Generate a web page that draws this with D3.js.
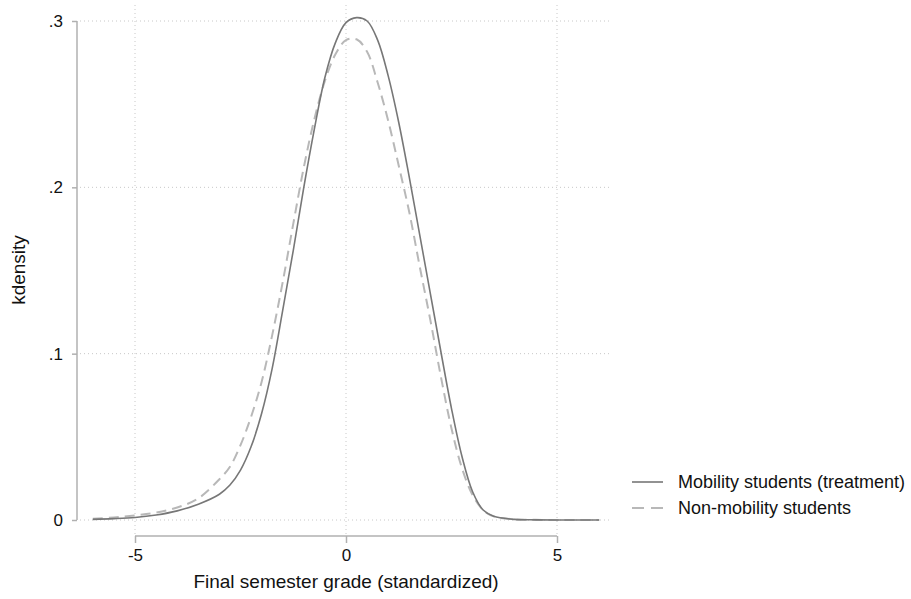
<!doctype html>
<html lang="en">
<head>
<meta charset="utf-8">
<title>kdensity</title>
<script src="https://cdn.jsdelivr.net/npm/d3@7"></script>
<style>
  body { margin: 0; background: #fff; }
  svg text { font-family: "Liberation Sans", Arial, sans-serif; fill: #111; }
</style>
</head>
<body>
<script>
var gridX = [-6, -5.5, -5, -4.5, -4, -3.5, -3, -2.75, -2.5, -2.25, -2, -1.75, -1.5, -1.25, -1, -0.75, -0.5, -0.25,
             0, 0.25, 0.5, 0.75, 1, 1.25, 1.5, 1.75, 2, 2.25, 2.5, 2.75, 3, 3.25, 3.5, 4, 4.5, 5, 5.5, 6];
var mobility = [0.0004, 0.0008, 0.0015, 0.003, 0.0055, 0.0095, 0.0155, 0.021, 0.030, 0.044, 0.064, 0.091, 0.126, 0.162, 0.200, 0.235, 0.266, 0.287,
                0.299, 0.302, 0.300, 0.2885, 0.267, 0.239, 0.206, 0.171, 0.136, 0.101, 0.067, 0.038, 0.017, 0.006, 0.0022, 0.0004, 0.0001, 0, 0, 0];
var nonMobility = [0.0008, 0.0015, 0.0028, 0.0045, 0.0075, 0.013, 0.0245, 0.032, 0.045, 0.062, 0.083, 0.111, 0.143, 0.178, 0.212, 0.241, 0.264, 0.280,
                   0.2885, 0.289, 0.2815, 0.263, 0.240, 0.213, 0.185, 0.152, 0.120, 0.086, 0.055, 0.031, 0.015, 0.006, 0.0022, 0.0004, 0.0001, 0, 0, 0];
var xTicks = [-5, 0, 5];
var yTicks = [0, 0.1, 0.2, 0.3];
var yTickLabels = ["0", ".1", ".2", ".3"];
var seriesNames = ["Mobility students (treatment)", "Non-mobility students"];

var W = 911, H = 599;
var x = d3.scaleLinear().domain([-5, 5]).range([135, 557]);
var y = d3.scaleLinear().domain([0, 0.3]).range([520, 21]);

var svg = d3.select("body").append("svg").attr("width", W).attr("height", H);

// dotted grid
svg.selectAll(".gx").data(xTicks).enter().append("line")
   .attr("x1", d => x(d)).attr("x2", d => x(d))
   .attr("y1", 5).attr("y2", 536)
   .attr("stroke", "#c8c8c8").attr("stroke-width", 1).attr("stroke-dasharray", "1,3");
svg.selectAll(".gy").data(yTicks).enter().append("line")
   .attr("x1", 80).attr("x2", 612)
   .attr("y1", d => y(d)).attr("y2", d => y(d))
   .attr("stroke", "#c8c8c8").attr("stroke-width", 1).attr("stroke-dasharray", "1,3");

// axes
var yAxis = d3.axisLeft(y).tickValues(yTicks).tickSize(5).tickPadding(9)
              .tickFormat((d, i) => yTickLabels[i]);
var gy = svg.append("g").attr("transform", "translate(77,0)").call(yAxis);
var xAxis = d3.axisBottom(x).tickValues(xTicks).tickSize(7).tickPadding(6)
              .tickFormat(d => String(d));
var gx = svg.append("g").attr("transform", "translate(0,536)").call(xAxis);

[gx, gy].forEach(function(g) {
  g.select(".domain").attr("stroke", "#b0b0b0").attr("stroke-width", 1.5);
  g.selectAll(".tick line").attr("stroke", "#b0b0b0").attr("stroke-width", 1.5);
  g.selectAll(".tick text").attr("font-size", 17).attr("fill", "#111")
   .attr("font-family", "Liberation Sans, Arial, sans-serif");
});
gx.select(".domain").attr("d", "M" + x(-5) + ",0H" + x(5));
gy.select(".domain").attr("d", "M0," + y(0.3) + "V" + y(0));

// curves
var pts1 = gridX.map((v, i) => [v, mobility[i]]);
var pts2 = gridX.map((v, i) => [v, nonMobility[i]]);
var line = d3.line().x(d => x(d[0])).y(d => y(d[1])).curve(d3.curveCatmullRom.alpha(0.5));

svg.append("path").datum(pts2).attr("d", line)
   .attr("fill", "none").attr("stroke", "#b8b8b8").attr("stroke-width", 2)
   .attr("stroke-dasharray", "10,6");
svg.append("path").datum(pts1).attr("d", line)
   .attr("fill", "none").attr("stroke", "#777").attr("stroke-width", 1.6);

// titles
svg.append("text").attr("x", 346).attr("y", 588).attr("text-anchor", "middle")
   .attr("font-size", 19).text("Final semester grade (standardized)");
svg.append("text").attr("transform", "translate(25,270) rotate(-90)").attr("text-anchor", "middle")
   .attr("font-size", 19).text("kdensity");

// legend
var leg = svg.append("g");
leg.append("line").attr("x1", 632).attr("x2", 663).attr("y1", 482).attr("y2", 482)
   .attr("stroke", "#777").attr("stroke-width", 1.6);
leg.append("line").attr("x1", 632).attr("x2", 663).attr("y1", 508).attr("y2", 508)
   .attr("stroke", "#b8b8b8").attr("stroke-width", 2).attr("stroke-dasharray", "12,7");
leg.selectAll("text").data(seriesNames).enter().append("text")
   .attr("x", 678).attr("y", (d, i) => 488 + i * 26)
   .attr("font-size", 18).text(d => d);
</script>
</body>
</html>
